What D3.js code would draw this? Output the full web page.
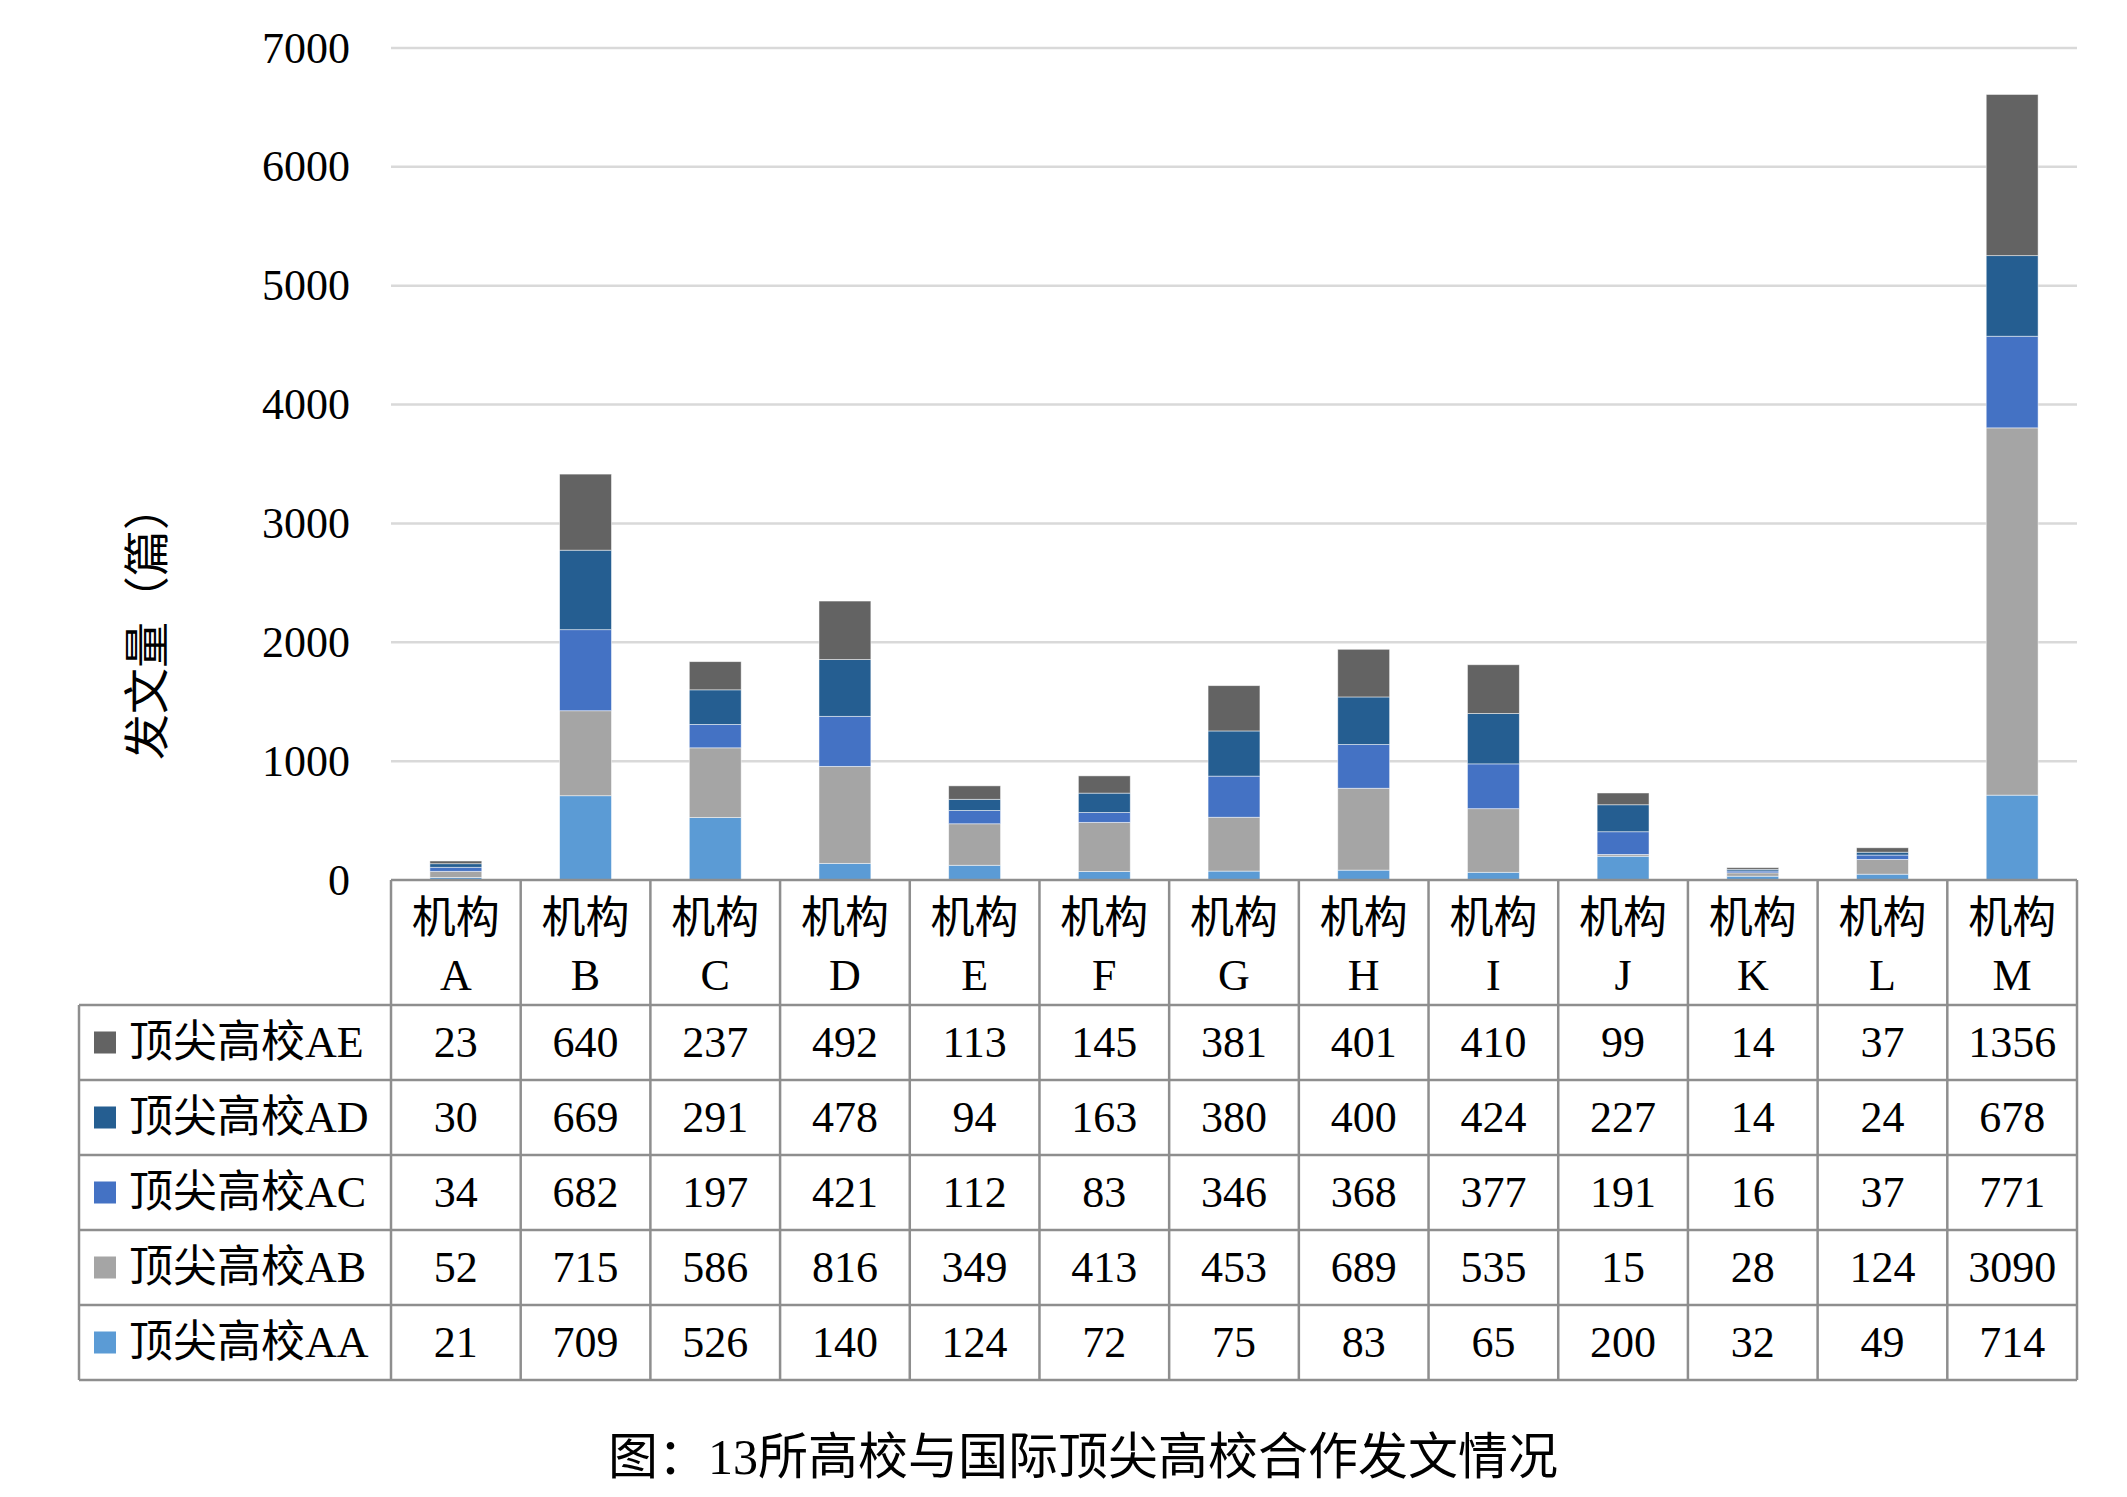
<!DOCTYPE html>
<html>
<head>
<meta charset="utf-8">
<script src="https://cdn.jsdelivr.net/npm/d3@7"></script>
<style>
  html, body { margin: 0; padding: 0; background: #fff; }
  svg { display: block; }
  text { font-family: 'Liberation Serif', 'Noto Sans CJK SC', serif; fill: #000; }
</style>
</head>
<body>
<svg id="chart" width="2127" height="1497"></svg>
<script>
// ---- data ----
const categories = ['A','B','C','D','E','F','G','H','I','J','K','L','M'];
const categoryPrefix = '机构';
const seriesKeys = ['AA','AB','AC','AD','AE'];
const seriesNames = ['顶尖高校AA','顶尖高校AB','顶尖高校AC','顶尖高校AD','顶尖高校AE'];
const seriesColors = ['#5B9BD5','#A5A5A5','#4472C4','#255E91','#636363'];
const AA = [21, 709, 526, 140, 124, 72, 75, 83, 65, 200, 32, 49, 714];
const AB = [52, 715, 586, 816, 349, 413, 453, 689, 535, 15, 28, 124, 3090];
const AC = [34, 682, 197, 421, 112, 83, 346, 368, 377, 191, 16, 37, 771];
const AD = [30, 669, 291, 478, 94, 163, 380, 400, 424, 227, 14, 24, 678];
const AE = [23, 640, 237, 492, 113, 145, 381, 401, 410, 99, 14, 37, 1356];
const yTicks = [0, 1000, 2000, 3000, 4000, 5000, 6000, 7000];
const yTitle = '发文量（篇）';
const caption = '图：13所高校与国际顶尖高校合作发文情况';

const seriesValues = { AA, AB, AC, AD, AE };
const rows = categories.map((c, i) => {
  const o = { cat: c };
  seriesKeys.forEach(k => o[k] = seriesValues[k][i]);
  return o;
});

// ---- layout ----
const svg = d3.select('#chart');
const plotLeft = 391, plotRight = 2077;
const yTop = 48, yZero = 880;
const tableLeft = 79;
const headerBottom = 1005;
const rowH = 75;
const gridColor = '#d9d9d9';
const tableColor = '#8e8e8e';
const fontSize = 44;

const x = d3.scaleBand().domain(categories).range([plotLeft, plotRight]).paddingInner(0.6).paddingOuter(0.3);
const xCol = d3.scaleBand().domain(categories).range([plotLeft, plotRight]).padding(0);
const y = d3.scaleLinear().domain([0, 7000]).range([yZero, yTop]);

svg.append('rect').attr('width', 2127).attr('height', 1497).attr('fill', '#fff');

// gridlines
svg.append('g').selectAll('line').data(yTicks.filter(t => t > 0)).join('line')
  .attr('x1', plotLeft).attr('x2', plotRight)
  .attr('y1', d => y(d)).attr('y2', d => y(d))
  .attr('stroke', gridColor).attr('stroke-width', 2.5);

// y axis labels
const yAxis = d3.axisLeft(y).tickValues(yTicks).tickSize(0).tickPadding(0).tickFormat(d3.format('d'));
const gy = svg.append('g').attr('transform', `translate(350,0)`).call(yAxis);
gy.select('.domain').remove();
gy.selectAll('text').attr('font-size', fontSize)
  .style('font-family', "'Liberation Serif', serif").attr('fill', '#000');

// y title
svg.append('text')
  .attr('transform', `translate(147,622) rotate(-90)`)
  .attr('text-anchor', 'middle').attr('dominant-baseline', 'central')
  .attr('font-size', 46).text(yTitle);

// stacked bars
const stack = d3.stack().keys(seriesKeys)(rows);
svg.append('g').selectAll('g').data(stack).join('g')
  .attr('fill', (d, i) => seriesColors[i])
  .selectAll('rect').data(d => d).join('rect')
  .attr('x', d => x(d.data.cat))
  .attr('width', x.bandwidth())
  .attr('y', d => y(d[1]))
  .attr('height', d => y(d[0]) - y(d[1]))
  .attr('stroke', '#ffffff').attr('stroke-width', 0.8).attr('stroke-opacity', 0.6);

// ---- data table ----
const tbl = svg.append('g');
const tableBottom = headerBottom + rowH * seriesKeys.length;

// header text
const hdr = tbl.append('g').selectAll('g').data(categories).join('g')
  .attr('transform', d => `translate(${xCol(d) + xCol.bandwidth() / 2},0)`);
hdr.append('text').attr('y', 918).attr('text-anchor', 'middle').attr('dominant-baseline', 'central')
  .attr('font-size', fontSize).text(categoryPrefix);
hdr.append('text').attr('y', 975).attr('text-anchor', 'middle').attr('dominant-baseline', 'central')
  .attr('font-size', fontSize).text(d => d);

// rows: top to bottom AE, AD, AC, AB, AA
const rowOrder = seriesKeys.map((k, i) => i).reverse();
rowOrder.forEach((si, r) => {
  const cy = headerBottom + rowH * r + rowH / 2;
  tbl.append('rect').attr('x', 94).attr('y', cy - 11).attr('width', 22).attr('height', 22)
    .attr('fill', seriesColors[si]);
  tbl.append('text').attr('x', 129).attr('y', cy).attr('dominant-baseline', 'central')
    .attr('font-size', fontSize).text(seriesNames[si]);
  tbl.append('g').selectAll('text').data(seriesValues[seriesKeys[si]]).join('text')
    .attr('x', (d, i) => xCol(categories[i]) + xCol.bandwidth() / 2)
    .attr('y', cy).attr('text-anchor', 'middle').attr('dominant-baseline', 'central')
    .attr('font-size', fontSize).text(d => d);
});

// table lines
const lines = tbl.append('g').attr('stroke', tableColor).attr('stroke-width', 2.5);
lines.append('line').attr('x1', plotLeft).attr('x2', plotRight).attr('y1', yZero).attr('y2', yZero);
d3.range(seriesKeys.length + 1).forEach(r => {
  const yy = headerBottom + rowH * r;
  lines.append('line').attr('x1', tableLeft).attr('x2', plotRight).attr('y1', yy).attr('y2', yy);
});
lines.append('line').attr('x1', tableLeft).attr('x2', tableLeft).attr('y1', headerBottom).attr('y2', tableBottom);
categories.forEach(c => {
  lines.append('line').attr('x1', xCol(c)).attr('x2', xCol(c)).attr('y1', yZero).attr('y2', tableBottom);
});
lines.append('line').attr('x1', plotRight).attr('x2', plotRight).attr('y1', yZero).attr('y2', tableBottom);

// caption
svg.append('text').attr('x', 1083).attr('y', 1457).attr('text-anchor', 'middle').attr('dominant-baseline', 'central')
  .attr('font-size', 50).text(caption);
</script>
</body>
</html>
